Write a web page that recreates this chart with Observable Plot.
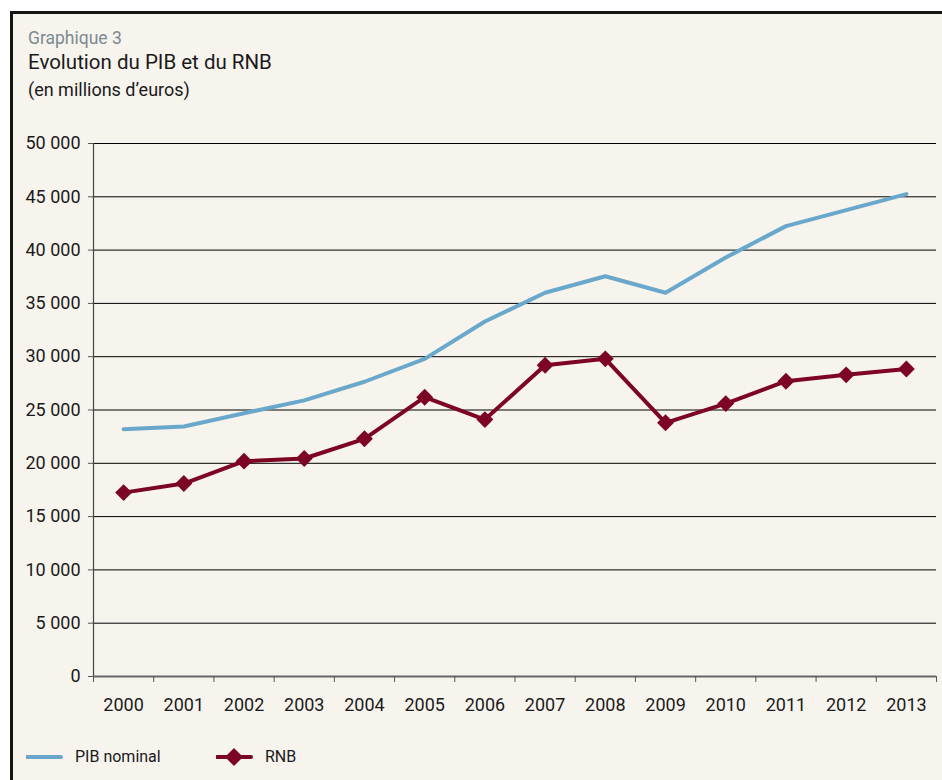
<!DOCTYPE html>
<html>
<head>
<meta charset="utf-8">
<script src="https://cdn.jsdelivr.net/npm/d3@7"></script>
<script src="https://cdn.jsdelivr.net/npm/@observablehq/plot@0.6"></script>
<style>
  html, body { margin: 0; padding: 0; background: #ffffff; }
  body { width: 942px; height: 780px; position: relative; overflow: hidden; font-family: Roboto, "Open Sans", sans-serif; }
  #frame { position: absolute; left: 10px; top: 11px; width: 940px; height: 780px; border-left: 3px solid #141414; border-top: 3px solid #141414; background: #f7f4ee; }
  .t { position: absolute; left: 28px; white-space: nowrap; }
  #t1 { top: 28px; font-size: 17.5px; color: #7d8a90; }
  #t2 { top: 50px; font-size: 20.5px; color: #1a1a1a; }
  #t3 { top: 79px; font-size: 18px; color: #1a1a1a; }
  #chart { position: absolute; left: 0; top: 120px; }
  #legend { position: absolute; left: 0; top: 745px; width: 942px; height: 26px; }
  #legend .item { position: absolute; top: 0; font-size: 16px; color: #1a1a1a; line-height: 24px; }
  #chart svg text { font-size: 18px; }
</style>
</head>
<body>
<div id="frame"></div>
<div class="t" id="t1">Graphique 3</div>
<div class="t" id="t2">Evolution du PIB et du RNB</div>
<div class="t" id="t3">(en millions d’euros)</div>
<div id="chart"></div>
<div id="legend"></div>
<script>
const years = [2000, 2001, 2002, 2003, 2004, 2005, 2006, 2007, 2008, 2009, 2010, 2011, 2012, 2013];
const pib = [23200, 23450, 24700, 25900, 27650, 29800, 33300, 36000, 37550, 36000, 39300, 42250, 43750, 45250];
const rnb = [17250, 18100, 20200, 20450, 22300, 26200, 24100, 29200, 29800, 23800, 25600, 27700, 28300, 28850];
const yTicks = [0, 5000, 10000, 15000, 20000, 25000, 30000, 35000, 40000, 45000, 50000];
const seriesNames = ["PIB nominal", "RNB"];
const colors = ["#6aa8cb", "#7d0524"];

const pibData = years.map((y, i) => ({year: y, value: pib[i]}));
const rnbData = years.map((y, i) => ({year: y, value: rnb[i]}));
const boundaries = years.map(y => y - 0.5).concat([years[years.length - 1] + 0.5]);
const fmt = d => d3.format(",")(d).replace(/,/g, "\u00a0");

const plot = Plot.plot({
  width: 942,
  height: 610,
  marginTop: 23,
  marginBottom: 54,
  marginLeft: 93,
  marginRight: 6,
  style: { background: "transparent", fontFamily: "Roboto, 'Open Sans', sans-serif", fontSize: "18px", color: "#1a1a1a" },
  x: { domain: [boundaries[0], boundaries[boundaries.length - 1]] },
  y: { domain: [0, 50000] },
  marks: [
    Plot.ruleY(yTicks.filter(d => d > 0), { stroke: "#000", strokeWidth: 1, x1: boundaries[0], x2: boundaries[boundaries.length - 1] }),
    Plot.axisY({ ticks: yTicks, tickFormat: fmt, tickSize: 5, tickPadding: 8, stroke: "#555", label: null, fontSize: 18 }),
    Plot.ruleX([boundaries[0]], { stroke: "#444", strokeWidth: 1.2 }),
    Plot.ruleY([0], { stroke: "#666", strokeWidth: 2 }),
    Plot.axisX({ ticks: boundaries, tickFormat: () => "", tickSize: 6, stroke: "#555", label: null }),
    Plot.axisX({ ticks: years, tickFormat: d => String(d), tickSize: 0, tickPadding: 22, label: null, fontSize: 18 }),
    Plot.line(pibData, { x: "year", y: "value", stroke: colors[0], strokeWidth: 4 }),
    Plot.line(rnbData, { x: "year", y: "value", stroke: colors[1], strokeWidth: 4 }),
    Plot.dot(rnbData, { x: "year", y: "value", symbol: "diamond2", r: 7.6, fill: colors[1], stroke: "none" })
  ]
});
document.getElementById("chart").appendChild(plot);

// Legend
const legend = document.getElementById("legend");
const items = [
  { name: seriesNames[0], color: colors[0], marker: false, x: 26, tx: 75 },
  { name: seriesNames[1], color: colors[1], marker: true, x: 216, tx: 265 }
];
items.forEach(it => {
  const svg = d3.select(legend).append("svg")
    .attr("width", 40).attr("height", 24)
    .style("position", "absolute").style("left", it.x + "px").style("top", "0px");
  svg.append("line").attr("x1", 1).attr("x2", 35).attr("y1", 12).attr("y2", 12)
    .attr("stroke", it.color).attr("stroke-width", 4).attr("stroke-linecap", "round");
  if (it.marker) {
    svg.append("path").attr("d", "M18,3L27,12L18,21L9,12Z").attr("fill", it.color);
  }
  const d = document.createElement("div");
  d.className = "item";
  d.style.left = it.tx + "px";
  d.textContent = it.name;
  legend.appendChild(d);
});
</script>
</body>
</html>
